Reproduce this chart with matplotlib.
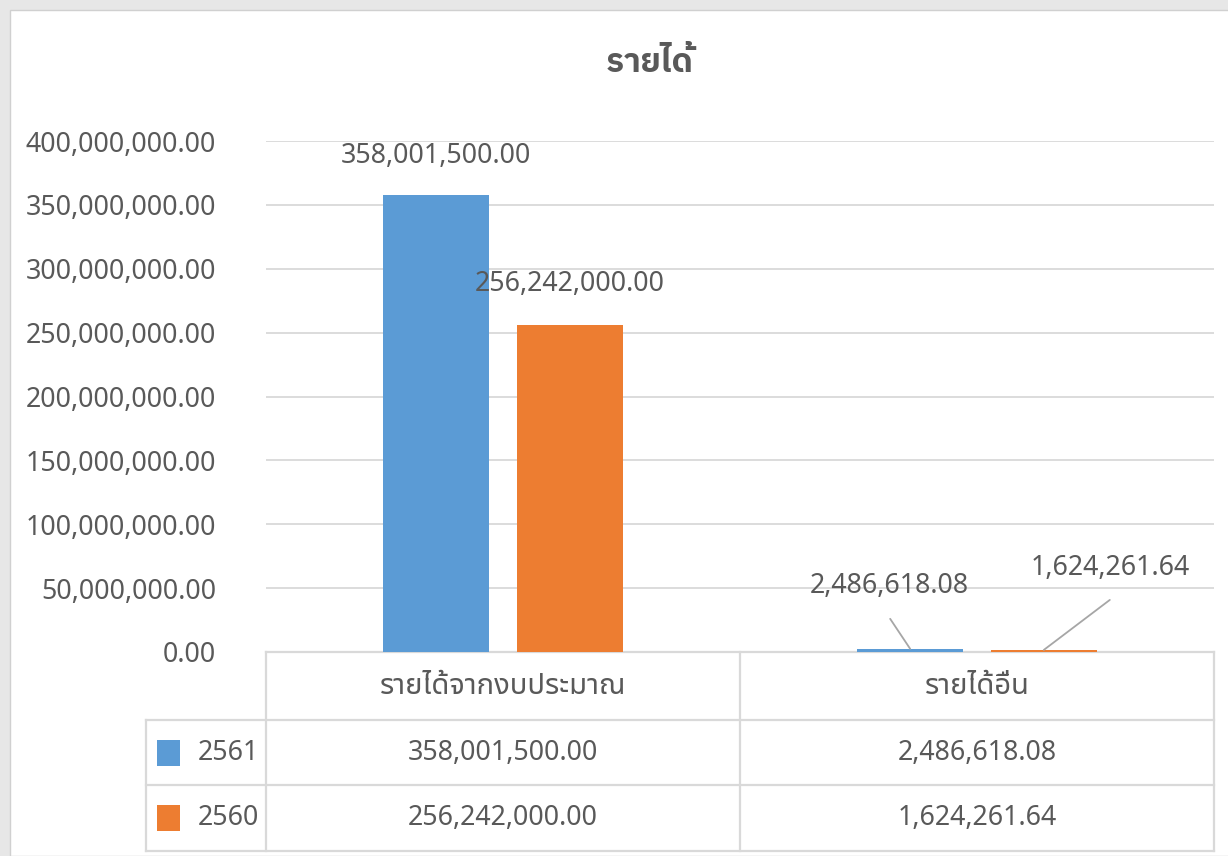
import matplotlib
matplotlib.use('Agg')
import matplotlib.pyplot as plt
from matplotlib.patches import Rectangle
import matplotlib.transforms as mtransforms

plt.rcParams['font.family'] = ['Noto Sans Thai UI', 'Noto Sans', 'DejaVu Sans']

# data
title = 'รายได้'
categories = ['รายได้จากงบประมาณ', 'รายได้อื่น']
series = ['2561', '2560']
values_2561 = [358001500.00, 2486618.08]
values_2560 = [256242000.00, 1624261.64]
yticks = [0, 50e6, 100e6, 150e6, 200e6, 250e6, 300e6, 350e6, 400e6]

blue = '#5B9BD5'
orange = '#ED7D31'
text_col = '#595959'
line_col = '#D9D9D9'
fs = 19.3        # numbers
fs_thai = 21     # thai labels in the table

fig = plt.figure(figsize=(12.28, 8.56), dpi=100, facecolor='#E7E7E7')
# white chart area
fig.patches.append(Rectangle((10 / 1228, 0), 1.0, 846 / 856, transform=fig.transFigure,
                             facecolor='white', edgecolor='#D0D0D0', lw=1.0, zorder=-5))

ax = fig.add_axes([266 / 1228, 204 / 856, 948 / 1228, 511 / 856])
ax.set_facecolor('white')

x = [0, 1]
w = 0.224
off = 0.141
ax.bar([i - off for i in x], values_2561, width=w, color=blue, zorder=3)
ax.bar([i + off for i in x], values_2560, width=w, color=orange, zorder=3)

ax.set_xlim(-0.5, 1.5)
ax.set_ylim(0, 400e6)
ax.set_yticks(yticks)
ax.set_yticklabels(['{:,.2f}'.format(v) for v in yticks])
ax.tick_params(axis='y', length=0, pad=36, labelsize=fs, labelcolor=text_col)
ax.set_xticks([])
ax.grid(axis='y', color=line_col, lw=1.3, zorder=0)
for s in ax.spines.values():
    s.set_visible(False)

# data labels
ax.annotate('{:,.2f}'.format(values_2561[0]), (0 - off, values_2561[0]), xytext=(0, 28),
            textcoords='offset points', ha='center', va='center', fontsize=fs, color=text_col)
ax.annotate('{:,.2f}'.format(values_2560[0]), (0 + off, values_2560[0]), xytext=(0, 29),
            textcoords='offset points', ha='center', va='center', fontsize=fs, color=text_col)

ax.annotate('{:,.2f}'.format(values_2561[1]), (1 - off, values_2561[1]), xytext=(-15, 45),
            textcoords='offset points', ha='center', va='center', fontsize=fs, color=text_col)
ax.annotate('', (1 - off, values_2561[1]), xytext=(-14.4, 21.6), textcoords='offset points',
            arrowprops=dict(arrowstyle='-', color='#A6A6A6', lw=1.3, shrinkA=0, shrinkB=0))
ax.annotate('{:,.2f}'.format(values_2560[1]), (1 + off, values_2560[1]), xytext=(47.5, 59),
            textcoords='offset points', ha='center', va='center', fontsize=fs, color=text_col)
ax.annotate('', (1 + off, values_2560[1]), xytext=(47.5, 36), textcoords='offset points',
            arrowprops=dict(arrowstyle='-', color='#A6A6A6', lw=1.3, shrinkA=0, shrinkB=0))

# title
fig.text(650 / 1228, 1 - 63 / 856, title, ha='center', va='center', fontsize=24,
         fontweight='bold', color=text_col, family=['IBM Plex Sans Thai', 'Noto Sans'])

# data table below the axes
trans = mtransforms.blended_transform_factory(ax.transData, ax.transAxes)
ax_px = 511.0
y_head = -68 / ax_px
y_r1 = -133 / ax_px
y_r2 = -199 / ax_px
x_left = -0.5 - 120 / 474

def hline(x0, x1, y):
    ax.plot([x0, x1], [y, y], transform=trans, color=line_col, lw=1.6, clip_on=False)

def vline(xv, y0, y1):
    ax.plot([xv, xv], [y0, y1], transform=trans, color=line_col, lw=1.6, clip_on=False)

hline(-0.5, 1.5, 0)
hline(x_left, 1.5, y_head)
hline(x_left, 1.5, y_r1)
hline(x_left, 1.5, y_r2)
vline(x_left, y_head, y_r2)
for xv in [-0.5, 0.5, 1.5]:
    vline(xv, 0, y_r2)

for i, c in enumerate(categories):
    ax.text(i, y_head / 2, c, transform=trans, ha='center', va='center', fontsize=fs_thai,
            color=text_col)

rows = [(series[0], values_2561, blue, (y_head + y_r1) / 2),
        (series[1], values_2560, orange, (y_r1 + y_r2) / 2)]
for name, vals, col, yc in rows:
    ax.add_patch(Rectangle((-0.5 - 109 / 474, yc - 13 / ax_px), 23 / 474, 26 / ax_px,
                           transform=trans, facecolor=col, edgecolor='none', clip_on=False))
    ax.text(-0.5 - 68 / 474, yc, name, transform=trans, ha='left', va='center', fontsize=fs,
            color=text_col)
    for i, v in enumerate(vals):
        ax.text(i, yc, '{:,.2f}'.format(v), transform=trans, ha='center', va='center',
                fontsize=fs, color=text_col)

fig.savefig('out.png', dpi=100, facecolor=fig.get_facecolor())
